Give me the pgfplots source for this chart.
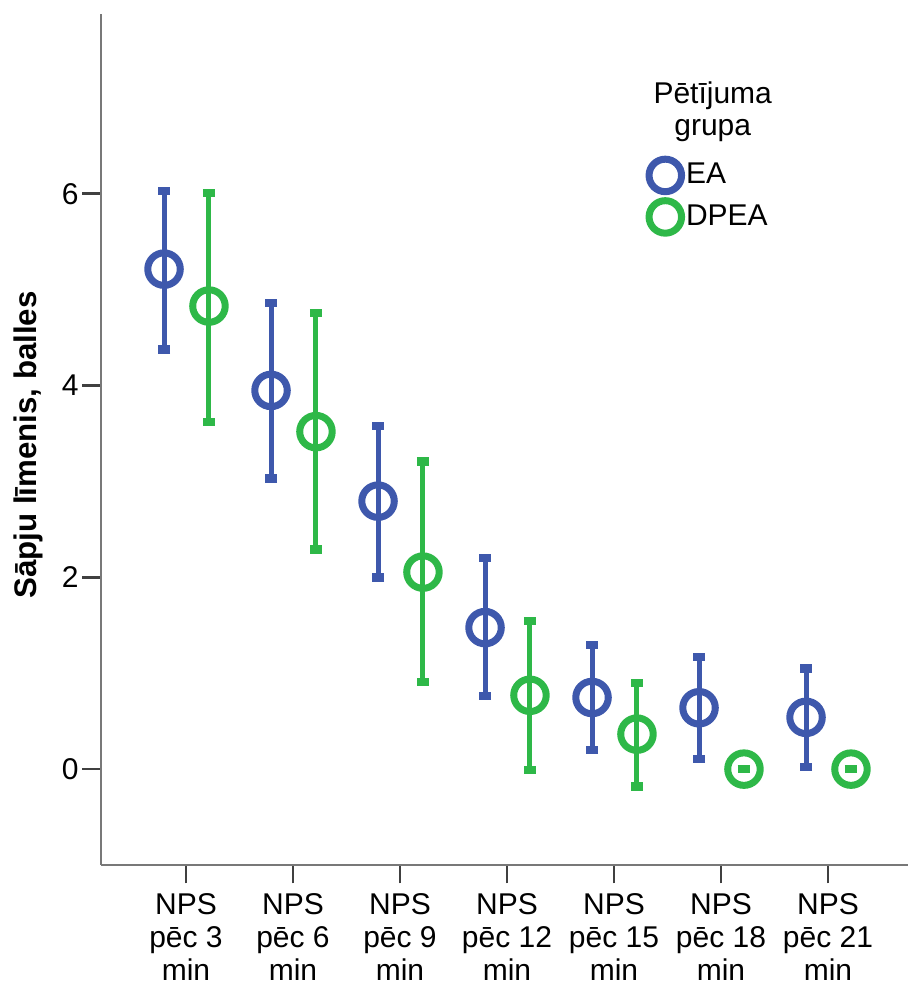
\documentclass[border=0pt]{standalone}
\usepackage{pgfplots}
\pgfplotsset{compat=1.18}
\usepackage{pgfplotstable}
\usepackage{fontspec}
\setmainfont{Liberation Sans}
\definecolor{eablue}{RGB}{62,88,172}
\definecolor{dpgreen}{RGB}{46,184,72}
\definecolor{axgray}{RGB}{120,120,120}
\newcommand\f{\fontsize{12pt}{12pt}\selectfont}
\newcommand\fx{\fontsize{12pt}{13.2pt}\selectfont}

\pgfplotstableread{
x m lo hi
0 5.215 4.375 6.03
1 3.95 3.03 4.86
2 2.795 2.0 3.58
3 1.476 0.764 2.20
4 0.747 0.198 1.295
5 0.64 0.104 1.17
6 0.54 0.02 1.05
}\ea
\pgfplotstableread{
x m lo hi
0 4.83 3.62 6.01
1 3.52 2.29 4.76
2 2.055 0.91 3.21
3 0.77 -0.01 1.545
4 0.365 -0.18 0.896
5 0 0 0
6 0 0 0
}\dpea

\begin{document}
\begin{tikzpicture}
\useasboundingbox (0,0) rectangle (363.2pt,394.4pt);
\begin{axis}[
  at={(40.4pt,48.4pt)}, anchor=south west,
  width=322.8pt, height=340.4pt, scale only axis,
  xmin=-0.794, xmax=6.748, ymin=-1.0, ymax=7.876,
  axis x line*=bottom, axis y line*=left,
  axis line style={axgray, line width=0.8pt, -},
  tick align=outside, major tick length=7.4pt,
  tick style={black!75, line width=1.1pt},
  xtick={0,1,2,3,4,5,6},
  xticklabels={{NPS\\pēc 3\\min},{NPS\\pēc 6\\min},{NPS\\pēc 9\\min},{NPS\\pēc 12\\min},{NPS\\pēc 15\\min},{NPS\\pēc 18\\min},{NPS\\pēc 21\\min}},
  xticklabel style={align=center, font=\fx, inner sep=0pt, yshift=-3.8pt},
  ytick={0,2,4,6},
  yticklabel style={font=\f, inner sep=0pt, xshift=-1.4pt},
  /pgf/number format/assume math mode=true,
  ylabel={\textbf{Sāpju līmenis, balles}},
  ylabel style={font=\fontsize{12.5pt}{12.5pt}\selectfont, at={(axis description cs:-0.0905,0.4935)}, anchor=center, rotate=0},
  clip=false,
  legend image code/.code={\draw[#1] plot coordinates {(0pt,0pt)};},
  legend style={at={(axis description cs:0.6785,0.830)}, anchor=north west, draw=none, fill=none, inner sep=0pt, font=\f, row sep=3.6pt, column sep=1.8pt, nodes={inner sep=0pt}},
  legend cell align=left,
]
\addplot[only marks, mark=o, mark size=6.5pt, mark options={draw=eablue, line width=2.8pt, fill=none},
  error bars/.cd, y dir=both, y explicit,
  error bar style={eablue, line width=2pt},
  error mark options={eablue, line width=3.4pt, mark size=2.4pt, rotate=90}]
  table[x expr=\thisrow{x}-0.205, y=m, y error plus expr=\thisrow{hi}-\thisrow{m}, y error minus expr=\thisrow{m}-\thisrow{lo}] {\ea};
\addlegendentry{EA}
\addplot[only marks, mark=o, mark size=6.5pt, mark options={draw=dpgreen, line width=2.8pt, fill=none},
  error bars/.cd, y dir=both, y explicit,
  error bar style={dpgreen, line width=2pt},
  error mark options={dpgreen, line width=3.4pt, mark size=2.4pt, rotate=90}]
  table[x expr=\thisrow{x}+0.215, y=m, y error plus expr=\thisrow{hi}-\thisrow{m}, y error minus expr=\thisrow{m}-\thisrow{lo}] {\dpea};
\addlegendentry{DPEA}
\node[align=center, font=\fontsize{12pt}{13pt}\selectfont, inner sep=0pt] at (axis description cs:0.758,0.885) {Pētījuma\\grupa};
\end{axis}
\end{tikzpicture}
\end{document}
